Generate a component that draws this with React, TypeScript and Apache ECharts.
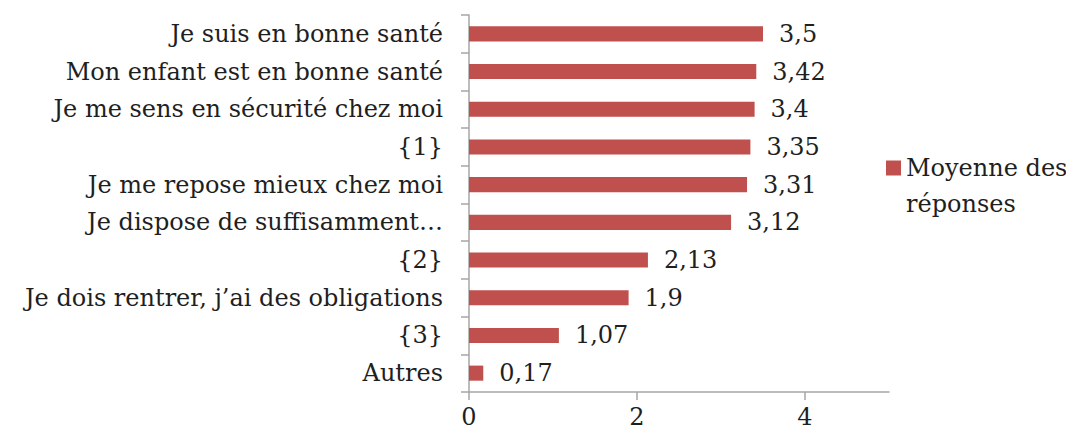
import React, { useEffect, useRef } from "react";
import * as echarts from "echarts";

const categories = [
  "Je suis en bonne santé",
  "Mon enfant est en bonne santé",
  "Je me sens en sécurité chez moi",
  "{1}",
  "Je me repose mieux chez moi",
  "Je dispose de suffisamment…",
  "{2}",
  "Je dois rentrer, j’ai des obligations",
  "{3}",
  "Autres",
];
const values = [3.5, 3.42, 3.4, 3.35, 3.31, 3.12, 2.13, 1.9, 1.07, 0.17];
const xTicks = [0, 2, 4];
const seriesName = "Moyenne des réponses";
const legendLines = ["Moyenne des", "réponses"];

const FONT = "DejaVu Serif";
const TEXT = "#1f1f1f";
const AXIS = "#a6a6a6";
const BAR = "#c0504d";
const FS = 24;

export default function App() {
  const ref = useRef<HTMLDivElement>(null);
  useEffect(() => {
    const chart = echarts.init(ref.current!, null, { renderer: "svg" });
    chart.setOption({
      animation: false,
      grid: {
        left: 469,
        right: 177,
        top: 15,
        bottom: 42,
        outerBoundsMode: "none",
      },
      legend: {
        orient: "vertical",
        left: 886,
        top: 114,
        padding: 0,
        itemWidth: 15,
        itemHeight: 15,
        icon: "rect",
        data: [seriesName],
        formatter: () => "\n" + legendLines.join("\n"),
        textStyle: {
          fontFamily: FONT,
          fontSize: FS,
          color: TEXT,
          lineHeight: 36,
        },
      },
      xAxis: {
        type: "value",
        min: 0,
        max: 5,
        interval: 2,
        splitLine: { show: false },
        axisLine: { show: true, lineStyle: { color: AXIS, width: 1.5 } },
        axisTick: {
          show: true,
          length: 8,
          customValues: xTicks,
          lineStyle: { color: AXIS, width: 1.5 },
        },
        axisLabel: {
          customValues: xTicks,
          fontFamily: FONT,
          fontSize: FS,
          color: TEXT,
          margin: 13,
        },
      },
      yAxis: {
        type: "category",
        inverse: true,
        data: categories,
        axisLine: { show: true, lineStyle: { color: AXIS, width: 1.5 } },
        axisTick: {
          show: true,
          length: 8,
          alignWithLabel: false,
          lineStyle: { color: AXIS, width: 1.5 },
        },
        axisLabel: {
          fontFamily: FONT,
          fontSize: FS,
          color: TEXT,
          margin: 26,
        },
      },
      series: [
        {
          name: seriesName,
          type: "bar",
          data: values,
          barCategoryGap: "60%",
          itemStyle: { color: BAR },
          label: {
            show: true,
            position: "right",
            distance: 16,
            fontFamily: FONT,
            fontSize: FS,
            color: TEXT,
            formatter: (p: any) => String(p.value).replace(".", ","),
          },
        },
      ],
    });
    return () => chart.dispose();
  }, []);
  return (
    <div
      ref={ref}
      style={{ position: "fixed", left: 0, top: 0, width: 1066, height: 434, background: "#fff" }}
    />
  );
}
